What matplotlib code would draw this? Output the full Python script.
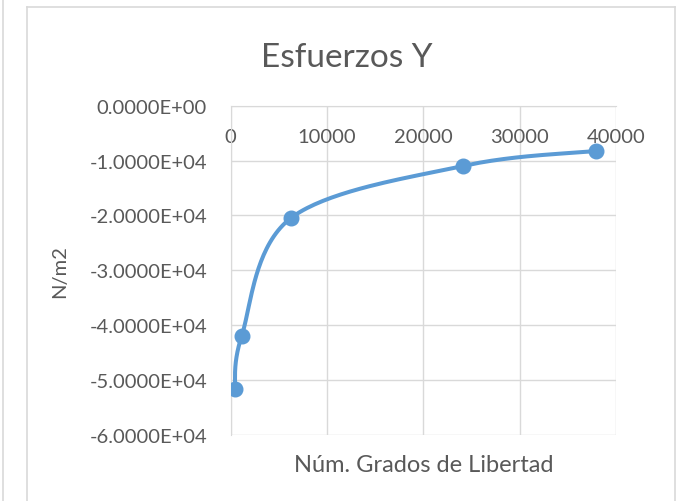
import matplotlib
matplotlib.use('Agg')
import matplotlib.pyplot as plt
import numpy as np
from matplotlib.lines import Line2D
from matplotlib.ticker import FuncFormatter

# ── Data ─────────────────────────────────────────────────────────────────────
dof = [415, 1140, 6230, 24160, 37930]
stress_y = [-51700, -41950, -20500, -10970, -8250]

x_ticks = [0, 10000, 20000, 30000, 40000]
y_ticks = [0, -10000, -20000, -30000, -40000, -50000, -60000]

BLUE = '#5B9BD5'
GRID = '#D9D9D9'
TEXT = '#595959'

plt.rcParams['font.family'] = ['Lato', 'DejaVu Sans']


def excel_smooth(x, y, n=40):
    """Bezier smoothing similar to Excel's 'smoothed line' option."""
    p = np.column_stack([x, y]).astype(float)
    ext = np.vstack([p[0], p, p[-1]])
    out = []
    t = np.linspace(0, 1, n)[:, None]
    for i in range(1, len(ext) - 2):
        p0, p1, p2, p3 = ext[i - 1], ext[i], ext[i + 1], ext[i + 2]
        c1 = p1 + (p2 - p0) / 6
        c2 = p2 - (p3 - p1) / 6
        seg = ((1 - t) ** 3) * p1 + 3 * ((1 - t) ** 2) * t * c1 \
            + 3 * (1 - t) * t ** 2 * c2 + t ** 3 * p2
        out.append(seg)
    s = np.vstack(out)
    return s[:, 0], s[:, 1]


fig = plt.figure(figsize=(6.83, 5.02), dpi=100)
ax = fig.add_axes([0.3378, 0.1315, 0.9019 - 0.3378, 0.7875 - 0.1315])

sx, sy = excel_smooth(dof, stress_y)
ax.plot(sx, sy, color=BLUE, linewidth=2.9, solid_capstyle='round', zorder=3)
ax.plot(dof, stress_y, 'o', color=BLUE, markersize=10.5, zorder=4)

ax.set_xlim(0, 40000)
ax.set_ylim(-60000, 0)
ax.set_xticks(x_ticks)
ax.set_yticks(y_ticks)
ax.yaxis.set_major_formatter(FuncFormatter(lambda v, pos: '{:.4E}'.format(v)))
ax.grid(True, color=GRID, linewidth=1.0)
ax.set_axisbelow(True)

for side in ['top', 'right']:
    ax.spines[side].set_visible(False)
ax.spines['left'].set_color(GRID)
ax.spines['bottom'].set_color(GRID)
ax.spines['bottom'].set_position(('data', 0))

ax.tick_params(axis='both', length=0, colors=TEXT, labelsize=14.5)
ax.tick_params(axis='x', pad=16)
ax.tick_params(axis='y', pad=17)

ax.set_xlabel('Núm. Grados de Libertad', fontsize=17, color=TEXT)
ax.xaxis.set_label_coords(0.5, -0.058)
ax.set_ylabel('N/m2', fontsize=14.5, color=TEXT, labelpad=15)

fig.text(0.507, 0.885, 'Esfuerzos Y', ha='center', va='center',
         fontsize=24, color=TEXT)

# chart area frame
frame_kw = dict(color=GRID, linewidth=1.2, transform=fig.transFigure)
fig.add_artist(Line2D([27 / 683, 27 / 683], [0, 1 - 8 / 502], **frame_kw))
fig.add_artist(Line2D([27 / 683, 675 / 683], [1 - 8 / 502, 1 - 8 / 502], **frame_kw))
fig.add_artist(Line2D([675 / 683, 675 / 683], [0, 1 - 8 / 502], **frame_kw))
fig.add_artist(Line2D([3 / 683, 3 / 683], [0, 1], **frame_kw))

fig.savefig('out.png', dpi=100)
